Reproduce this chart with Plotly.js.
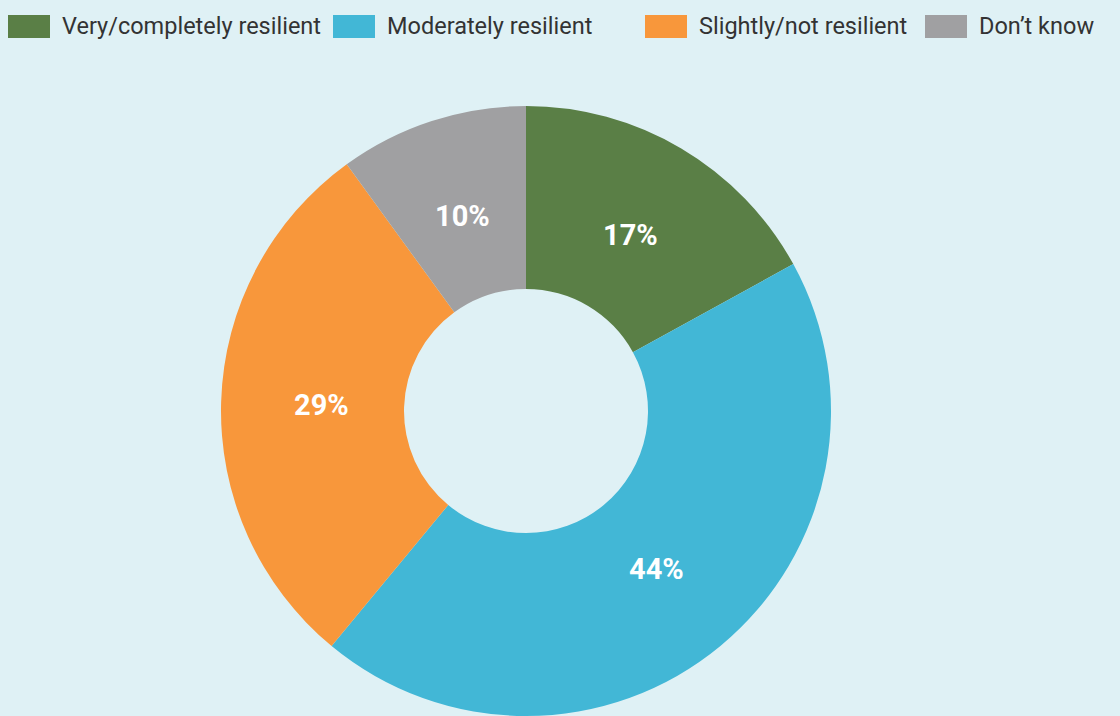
<!DOCTYPE html>
<html>
<head>
<meta charset="utf-8">
<script src="https://cdn.plot.ly/plotly-3.0.1.min.js"></script>
<style>
html,body{margin:0;padding:0;background:#dff1f5;}
#chart{width:1120px;height:716px;}
</style>
</head>
<body>
<div id="chart"></div>
<script>
const categories = ["Very/completely resilient", "Moderately resilient", "Slightly/not resilient", "Don\u2019t know"];
const values = [17, 44, 29, 10];
const colors = ["#5a7f46", "#42b7d6", "#f8973b", "#a0a0a2"];

const W = 1120, H = 716;
const cx = 526, cy = 411, R = 305;
const HOLE = 0.40;

const trace = {
  type: "pie",
  labels: categories,
  values: values,
  sort: false,
  direction: "clockwise",
  rotation: 0,
  hole: HOLE,
  marker: {colors: colors, line: {width: 0}},
  textinfo: "none",
  domain: {x: [(cx - R) / W, (cx + R) / W], y: [(H - cy - R) / H, (H - cy + R) / H]},
  showlegend: false,
  hoverinfo: "label+percent"
};

const shapes = [], annotations = [];

// slice labels placed at the middle of each slice's angle
const total = values.reduce((a, b) => a + b, 0);
const labelR = 205;
let cum = 0;
values.forEach((v, i) => {
  const mid = (cum + v / 2) / total * 2 * Math.PI;
  cum += v;
  const px = cx + labelR * Math.sin(mid);
  const py = cy - labelR * Math.cos(mid);
  annotations.push({xref: "paper", yref: "paper", x: px / W, y: 1 - py / H,
    xanchor: "center", yanchor: "middle", text: v + "%", showarrow: false,
    font: {family: "Roboto, sans-serif", size: 29, color: "#ffffff", weight: 700}});
});

// custom legend
const legendX = [8, 333, 645, 925];
categories.forEach((c, i) => {
  shapes.push({type: "rect", xref: "paper", yref: "paper",
    x0: legendX[i] / W, x1: (legendX[i] + 42) / W,
    y0: 1 - 38 / H, y1: 1 - 15 / H,
    fillcolor: colors[i], line: {width: 0}});
  annotations.push({xref: "paper", yref: "paper", x: (legendX[i] + 52) / W, y: 1 - 26.5 / H,
    xanchor: "left", yanchor: "middle", text: c, showarrow: false,
    font: {family: "Roboto, sans-serif", size: 23.5, color: "#333333"}});
});

const layout = {
  width: W, height: H,
  margin: {l: 0, r: 0, t: 0, b: 0},
  paper_bgcolor: "#dff1f5",
  plot_bgcolor: "#dff1f5",
  showlegend: false,
  shapes: shapes,
  annotations: annotations
};

Plotly.newPlot("chart", [trace], layout, {displayModeBar: false, staticPlot: true});
</script>
</body>
</html>
